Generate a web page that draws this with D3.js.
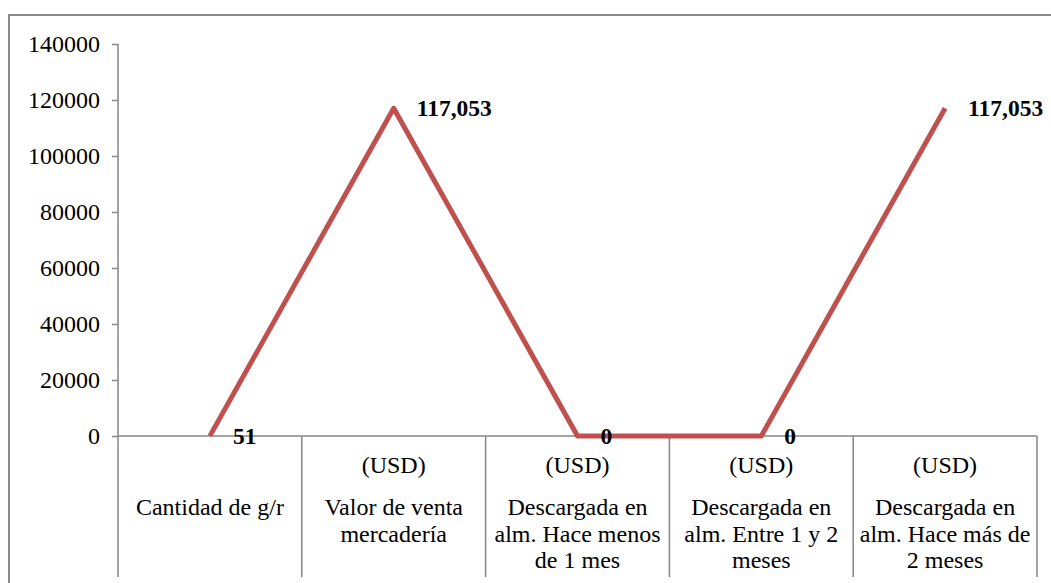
<!DOCTYPE html>
<html>
<head>
<meta charset="utf-8">
<script src="https://cdn.jsdelivr.net/npm/d3@7"></script>
<style>
  body { margin: 0; background: #fff; }
</style>
</head>
<body>
<div id="chart"></div>
<script>
// chart data
var categories = ["c1", "c2", "c3", "c4", "c5"];
var unitLabels = ["", "(USD)", "(USD)", "(USD)", "(USD)"];
var categoryLines = [
    ["Cantidad de g/r"],
    ["Valor de venta", "mercadería"],
    ["Descargada en", "alm. Hace menos", "de 1 mes"],
    ["Descargada en", "alm. Entre 1 y 2", "meses"],
    ["Descargada en", "alm. Hace más de", "2 meses"]
];
var values = [51, 117053, 0, 0, 117053];
var valueLabels = ["51", "117,053", "0", "0", "117,053"];
var yTicks = [0, 20000, 40000, 60000, 80000, 100000, 120000, 140000];

var svgWidth = 1051;
var svgHeight = 583;
var fontStack = "'Liberation Serif', Tinos, 'Times New Roman', 'DejaVu Serif', serif";

var margin = { top: 44, left: 118, right: 14, bottom: 147 };

var svg = d3.select("#chart")
    .append("svg")
    .attr("width", svgWidth)
    .attr("height", svgHeight)
    .style("font-family", fontStack);

// outer frame (only top and left edges visible)
svg.append("path")
    .attr("d", "M9,583V15H1051")
    .attr("fill", "none")
    .attr("stroke", "#888")
    .attr("stroke-width", 2);

var xScale = d3.scaleBand()
    .domain(categories)
    .range([margin.left, svgWidth - margin.right])
    .padding(0);

var yScale = d3.scaleLinear()
    .domain([0, 140000])
    .range([svgHeight - margin.bottom, margin.top]);

var baseY = yScale(0);
var bottomY = 577;

// y axis
var leftAxis = d3.axisLeft(yScale)
    .tickValues(yTicks)
    .tickFormat(d3.format("d"))
    .tickSize(6)
    .tickPadding(12);

var yAxis = svg.append("g")
    .attr("transform", `translate(${margin.left},0)`)
    .call(leftAxis)
    .attr("font-family", null)
    .attr("font-size", null);

yAxis.select(".domain").remove();
yAxis.selectAll("line").attr("stroke", "#868686").attr("stroke-width", 1.5);
yAxis.selectAll("text")
    .style("font-family", fontStack)
    .style("font-size", "24px")
    .attr("fill", "#000");

// axis lines: y axis extends down through the category table
svg.append("line")
    .attr("x1", margin.left).attr("x2", margin.left)
    .attr("y1", margin.top).attr("y2", bottomY)
    .attr("stroke", "#868686").attr("stroke-width", 1.5);

svg.append("line")
    .attr("x1", margin.left).attr("x2", xScale.range()[1])
    .attr("y1", baseY).attr("y2", baseY)
    .attr("stroke", "#868686").attr("stroke-width", 1.5);

// category separators
svg.selectAll(".sep")
    .data(categories)
    .enter()
    .append("line")
    .attr("class", "sep")
    .attr("x1", d => xScale(d) + xScale.bandwidth())
    .attr("x2", d => xScale(d) + xScale.bandwidth())
    .attr("y1", baseY)
    .attr("y2", bottomY)
    .attr("stroke", "#868686")
    .attr("stroke-width", 1.5);

// category labels
var catGroups = svg.selectAll(".cat")
    .data(categories)
    .enter()
    .append("g")
    .attr("class", "cat")
    .attr("transform", d => `translate(${xScale(d) + xScale.bandwidth() / 2},0)`);

catGroups.append("text")
    .attr("y", 473)
    .attr("text-anchor", "middle")
    .style("font-family", fontStack)
    .style("font-size", "24px")
    .text((d, i) => unitLabels[i]);

catGroups.each(function(d, i) {
    var g = d3.select(this);
    categoryLines[i].forEach(function(line, j) {
        g.append("text")
            .attr("y", 515 + j * 26.5)
            .attr("text-anchor", "middle")
            .style("font-family", fontStack)
            .style("font-size", "24px")
            .text(line);
    });
});

// line series
var lineGen = d3.line()
    .x((d, i) => xScale(categories[i]) + xScale.bandwidth() / 2)
    .y(d => yScale(d));

svg.append("path")
    .datum(values)
    .attr("d", lineGen)
    .attr("fill", "none")
    .attr("stroke", "#C0504D")
    .attr("stroke-width", 5)
    .attr("stroke-linejoin", "round");

// data labels
svg.selectAll(".vlabel")
    .data(values)
    .enter()
    .append("text")
    .attr("class", "vlabel")
    .attr("x", (d, i) => xScale(categories[i]) + xScale.bandwidth() / 2 + 23)
    .attr("y", d => yScale(d))
    .attr("dy", "0.35em")
    .style("font-family", fontStack)
    .style("font-size", "23.5px")
    .style("font-weight", "bold")
    .text((d, i) => valueLabels[i]);
</script>
</body>
</html>
